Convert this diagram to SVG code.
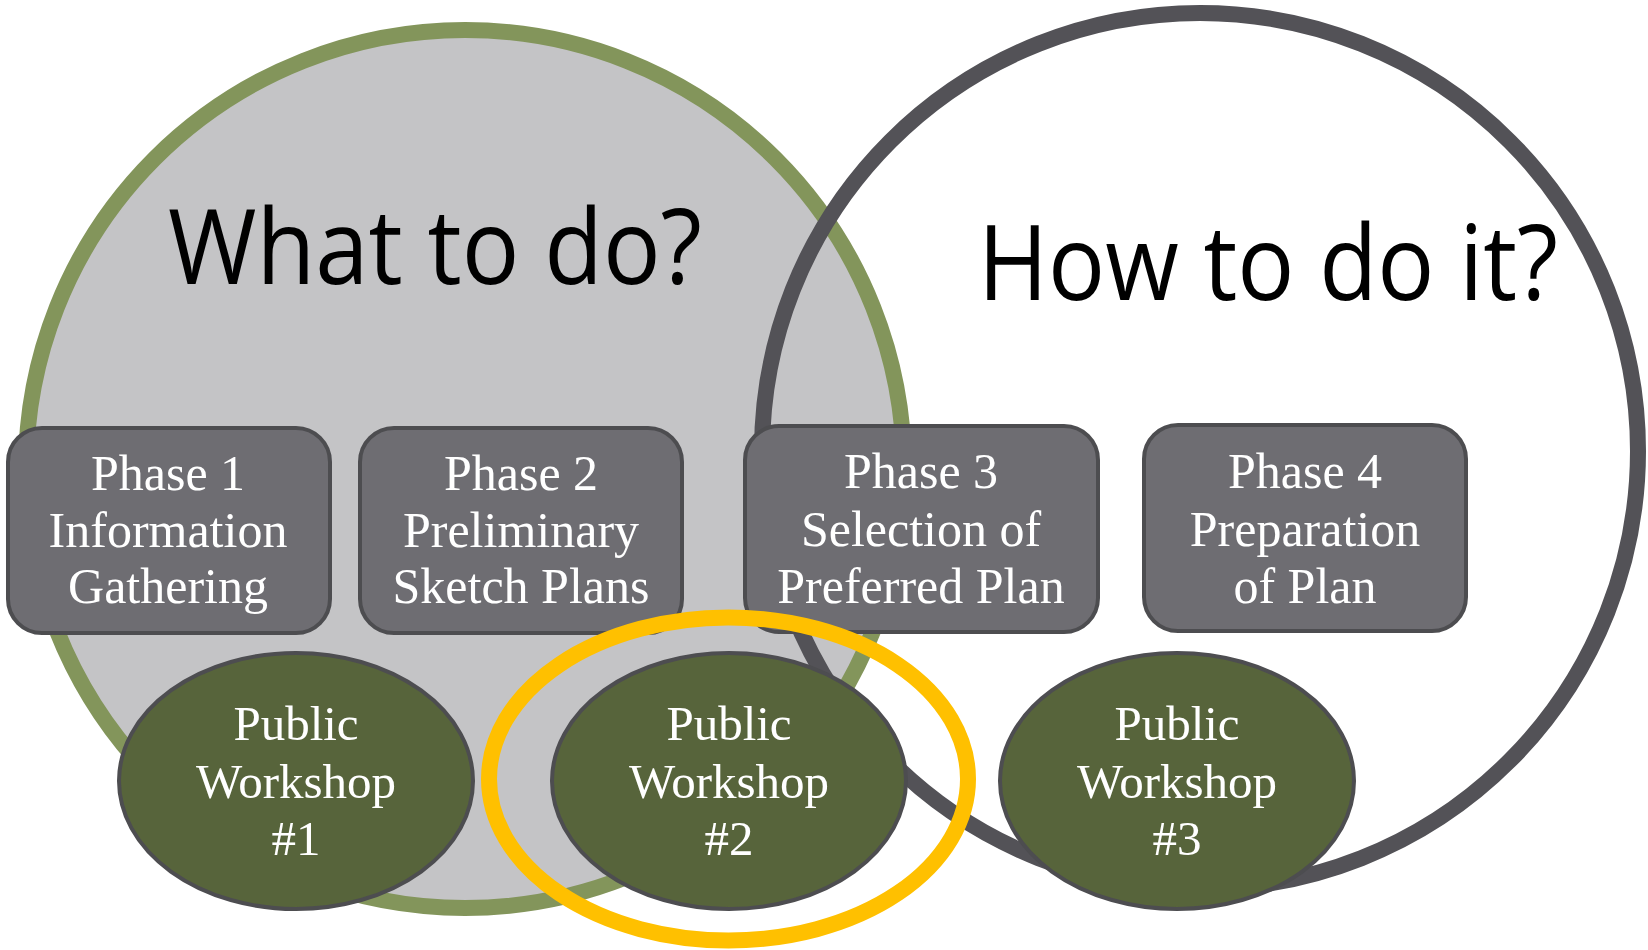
<svg xmlns="http://www.w3.org/2000/svg" width="1648" height="950" viewBox="0 0 1648 950">
  <style>
    .title { font-family: "Open Sans", "Liberation Sans", sans-serif; font-size: 104px; fill: #000; }
    .box { fill: #6e6d72; stroke: #4d4d50; stroke-width: 4; }
    .ws { fill: #57643b; stroke: #4d4d50; stroke-width: 4; }
    .lbl { font-family: "Liberation Serif", "Times New Roman", serif; font-size: 50px; fill: #fff; text-anchor: middle; }
    .wlbl { font-family: "Liberation Serif", "Times New Roman", serif; font-size: 49px; fill: #fff; text-anchor: middle; }
  </style>
  <rect width="1648" height="950" fill="#ffffff"/>
  <g id="region-what">
    <circle cx="465" cy="469" r="439" fill="#c4c4c6" stroke="#83955b" stroke-width="16"/>
  </g>
  <g id="region-how">
    <circle cx="1200" cy="451" r="438" fill="none" stroke="#535257" stroke-width="16"/>
  </g>
  <g id="titles">
    <text class="title" x="168" y="284" textLength="534" lengthAdjust="spacingAndGlyphs">What to do?</text>
    <text class="title" x="978" y="300" textLength="580" lengthAdjust="spacingAndGlyphs">How to do it?</text>
  </g>
  <g id="phase1">
    <rect class="box" x="8" y="428" width="322" height="205" rx="34"/>
    <text class="lbl" x="168" y="490">Phase 1</text>
    <text class="lbl" x="168" y="547">Information</text>
    <text class="lbl" x="168" y="603">Gathering</text>
  </g>
  <g id="phase2">
    <rect class="box" x="360" y="428" width="322" height="205" rx="34"/>
    <text class="lbl" x="521" y="490">Phase 2</text>
    <text class="lbl" x="521" y="547">Preliminary</text>
    <text class="lbl" x="521" y="603">Sketch Plans</text>
  </g>
  <g id="phase3">
    <rect class="box" x="745" y="426" width="353" height="206" rx="34"/>
    <text class="lbl" x="921" y="488">Phase 3</text>
    <text class="lbl" x="921" y="546">Selection of</text>
    <text class="lbl" x="921" y="603">Preferred Plan</text>
  </g>
  <g id="phase4">
    <rect class="box" x="1144" y="425" width="322" height="206" rx="34"/>
    <text class="lbl" x="1305" y="488">Phase 4</text>
    <text class="lbl" x="1305" y="546">Preparation</text>
    <text class="lbl" x="1305" y="603">of Plan</text>
  </g>
  <g id="workshop1">
    <ellipse class="ws" cx="296" cy="781" rx="177" ry="128"/>
    <text class="wlbl" x="296" y="740">Public</text>
    <text class="wlbl" x="296" y="798">Workshop</text>
    <text class="wlbl" x="296" y="855">#1</text>
  </g>
  <g id="workshop2">
    <ellipse class="ws" cx="729" cy="781" rx="177" ry="128"/>
    <text class="wlbl" x="729" y="740">Public</text>
    <text class="wlbl" x="729" y="798">Workshop</text>
    <text class="wlbl" x="729" y="855">#2</text>
  </g>
  <g id="workshop3">
    <ellipse class="ws" cx="1177" cy="781" rx="177" ry="128"/>
    <text class="wlbl" x="1177" y="740">Public</text>
    <text class="wlbl" x="1177" y="798">Workshop</text>
    <text class="wlbl" x="1177" y="855">#3</text>
  </g>
  <g id="highlight">
    <ellipse cx="728.5" cy="779" rx="239.5" ry="161.5" fill="none" stroke="#ffc000" stroke-width="16"/>
  </g>
  <g id="connectors"></g>
</svg>
